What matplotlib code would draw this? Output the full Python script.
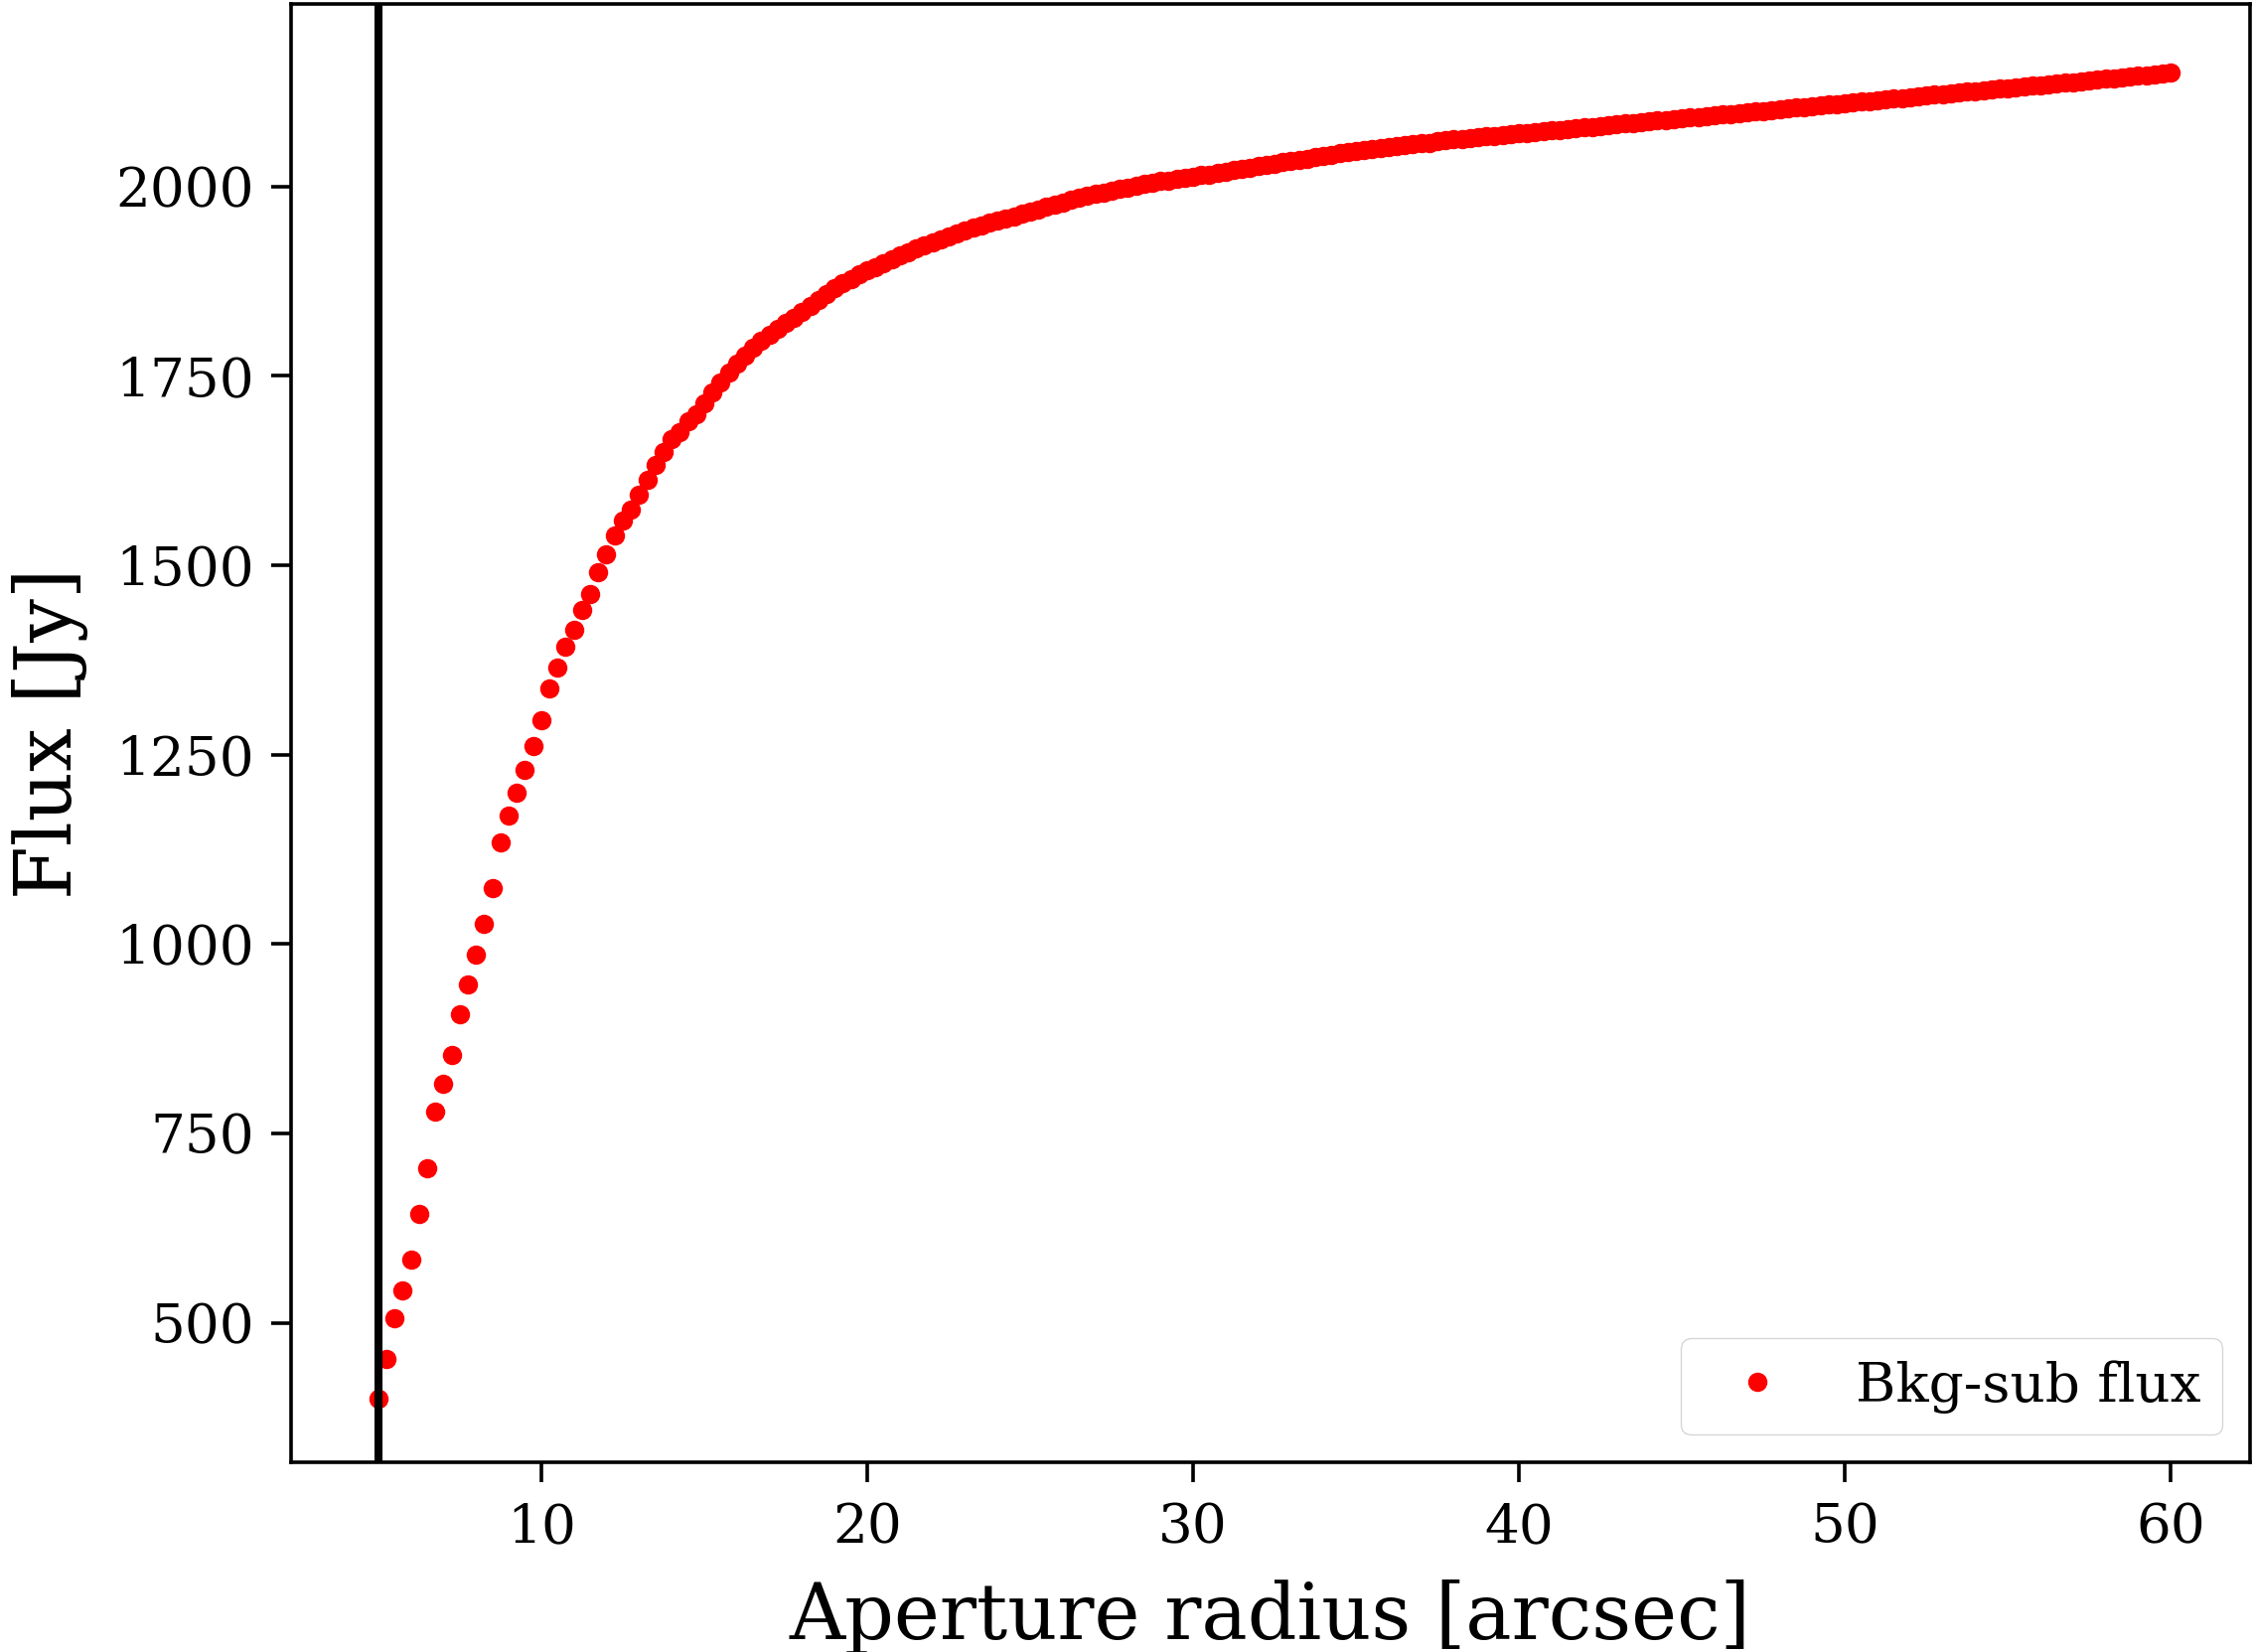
import numpy as np
import matplotlib
matplotlib.use("Agg")
import matplotlib.pyplot as plt

# background-subtracted flux [Jy] read per aperture (0.25 arcsec steps from 5 to 60)
flux_inner = [400, 452, 506, 543, 584, 644, 704, 779, 815, 853,
              907, 947, 986, 1027, 1074, 1134, 1170, 1200, 1230, 1262,
              1295, 1337, 1365, 1392, 1415, 1441, 1462, 1491, 1514, 1540,
              1559, 1574, 1593, 1613, 1632, 1650, 1666, 1676, 1690, 1700,
              1714]
flux_knee = [1728, 1742, 1754, 1766, 1777, 1787, 1796, 1804, 1812, 1820,
             1827, 1834, 1842, 1850, 1858, 1866, 1872, 1878, 1884, 1889,
             1894, 1899, 1904, 1909, 1913, 1918, 1922, 1926, 1930, 1934,
             1938, 1942, 1946, 1949, 1952, 1955, 1958, 1961, 1964, 1967,
             1970]
flux_mid = [1973, 1976, 1979, 1982, 1985, 1988, 1990, 1992, 1995, 1997,
            1999, 2001, 2003, 2005, 2007, 2008, 2010, 2011, 2013, 2015,
            2016, 2018, 2020, 2022, 2023, 2025, 2027, 2029, 2030, 2032,
            2034, 2035, 2037, 2039, 2041, 2042, 2044, 2045, 2047, 2048,
            2049, 2051, 2052, 2053, 2055, 2056, 2057, 2058, 2060, 2061,
            2062, 2063, 2064, 2065, 2066, 2067, 2068, 2069, 2070, 2071,
            2072, 2073, 2074]
flux_outer = [2075, 2076, 2077, 2078, 2079, 2080, 2081, 2082, 2083, 2084,
              2085, 2086, 2087, 2088, 2089, 2090, 2091, 2092, 2093, 2094,
              2095, 2096, 2097, 2098, 2099, 2100, 2101, 2102, 2103, 2104,
              2105, 2106, 2107, 2108, 2109, 2110, 2111, 2112, 2113, 2114,
              2115, 2116, 2117, 2118, 2119, 2120, 2121, 2122, 2123, 2124,
              2125, 2126, 2127, 2128, 2129, 2130, 2131, 2132, 2133, 2134,
              2135, 2136, 2137, 2138, 2139, 2140, 2141, 2142, 2143, 2144,
              2145, 2146, 2147, 2148, 2149, 2150]

flux = np.array(flux_inner + flux_knee + flux_mid + flux_outer, dtype=float)
radius = np.linspace(5.0, 60.0, len(flux))
r_min = 5.0   # inner aperture limit

plt.rcParams["font.family"] = "DejaVu Serif"

fig = plt.figure(figsize=(22.69, 16.63), dpi=100)
ax = fig.add_axes([0.1291, 0.1149, 0.8691, 0.8827])

ax.plot(radius, flux, "o", color="red", markersize=13, label="Bkg-sub flux")
ax.axvline(r_min, color="black", linewidth=5.8)

ax.set_xlim(2.32, 62.43)
ax.set_ylim(316, 2241)

ax.set_xlabel("Aperture radius [arcsec]", fontsize=56, labelpad=18)
ax.set_ylabel("Flux [Jy]", fontsize=56, labelpad=20)
ax.tick_params(labelsize=39.5, length=14.4, width=2.6, pad=12)
ax.tick_params(axis="x", pad=15)
for sp in ax.spines.values():
    sp.set_linewidth(2.6)

ax.legend(loc="lower right", fontsize=39.5)

fig.savefig("out.png", dpi=100)
